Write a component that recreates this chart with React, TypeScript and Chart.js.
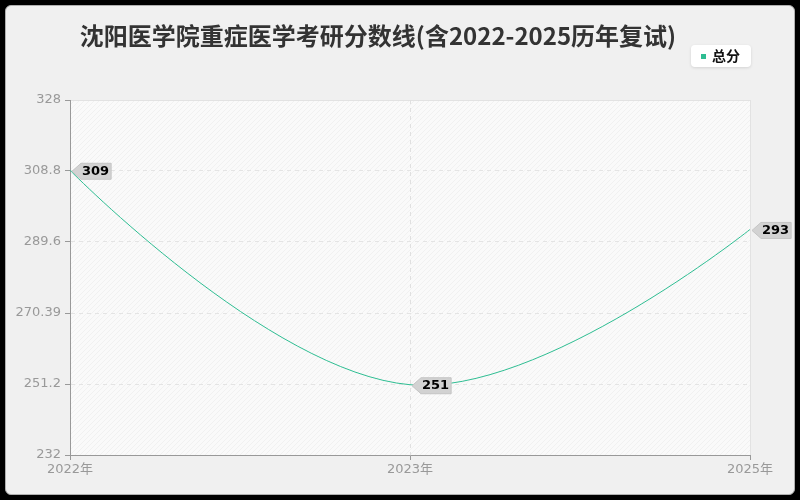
import React, { useEffect, useRef } from "react";
import Chart from "chart.js/auto";

const TITLE = "沈阳医学院重症医学考研分数线(含2022-2025历年复试)";
const SERIES_NAME = "总分";
const years = ["2022年", "2023年", "2025年"];
const scores = [309, 251, 293];
const yTicks = [232, 251.2, 270.39, 289.6, 308.8, 328];

const LINE_COLOR = "#2ebd92";
const TICK_FONT = '"DejaVu Sans", "Noto Sans CJK SC", sans-serif';
const CJK_FONT = '"Noto Sans CJK SC", "Noto Sans", sans-serif';

const backgroundPlugin = {
  id: "plotBackground",
  beforeDraw(chart: any) {
    const { ctx, chartArea: a } = chart;
    ctx.save();
    ctx.fillStyle = "#fafafa";
    ctx.fillRect(a.left, a.top, a.right - a.left, a.bottom - a.top);
    ctx.beginPath();
    ctx.rect(a.left, a.top, a.right - a.left, a.bottom - a.top);
    ctx.clip();
    ctx.strokeStyle = "rgba(0,0,0,0.035)";
    ctx.lineWidth = 1;
    const h = a.bottom - a.top;
    for (let x = a.left - h; x < a.right; x += 5) {
      ctx.beginPath();
      ctx.moveTo(x, a.bottom);
      ctx.lineTo(x + h, a.top);
      ctx.stroke();
    }
    ctx.restore();
    ctx.save();
    ctx.strokeStyle = "#e2e2e2";
    ctx.lineWidth = 1;
    ctx.strokeRect(a.left + 0.5, a.top + 0.5, a.right - a.left, a.bottom - a.top);
    ctx.restore();
  },
  afterDraw(chart: any) {
    const { ctx } = chart;
    ctx.save();
    // title
    ctx.fillStyle = "#333";
    ctx.font = `bold 24px ${CJK_FONT}`;
    ctx.textAlign = "center";
    ctx.textBaseline = "middle";
    ctx.fillText(TITLE, 378, 36);
    // legend
    ctx.shadowColor = "rgba(0,0,0,0.12)";
    ctx.shadowBlur = 3;
    ctx.shadowOffsetY = 1;
    ctx.fillStyle = "#fff";
    ctx.beginPath();
    ctx.roundRect(691, 45, 60, 22, 4);
    ctx.fill();
    ctx.shadowColor = "transparent";
    ctx.fillStyle = LINE_COLOR;
    ctx.fillRect(701, 54, 5, 5);
    ctx.fillStyle = "#111";
    ctx.font = `bold 14px ${CJK_FONT}`;
    ctx.textAlign = "left";
    ctx.fillText(SERIES_NAME, 712, 56);
    ctx.restore();
  },
};

// ends of the curve leave/enter their point without a handle
const endHandlesPlugin = {
  id: "endHandles",
  beforeDatasetsDraw(chart: any) {
    const meta = chart.getDatasetMeta(0);
    const pts = meta.data;
    if (!pts.length) return;
    meta.dataset.updateControlPoints(chart.chartArea, "x");
    const first = pts[0];
    const last = pts[pts.length - 1];
    first.cp2x = first.x;
    first.cp2y = first.y;
    last.cp1x = last.x;
    last.cp1y = last.y;
    meta.dataset._path = undefined;
  },
};

const labelPlugin = {
  id: "pointLabels",
  afterDatasetsDraw(chart: any) {
    const { ctx } = chart;
    const meta = chart.getDatasetMeta(0);
    ctx.save();
    ctx.font = `bold 13px ${TICK_FONT}`;
    meta.data.forEach((pt: any, i: number) => {
      const text = String(scores[i]);
      const w = ctx.measureText(text).width;
      const x = pt.x + 2;
      const y = pt.y + 1;
      const bx = x + 9;
      ctx.beginPath();
      ctx.moveTo(x, y);
      ctx.lineTo(bx, y - 8);
      ctx.lineTo(bx + w + 3, y - 8);
      ctx.lineTo(bx + w + 3, y + 8);
      ctx.lineTo(bx, y + 8);
      ctx.closePath();
      ctx.fillStyle = "#d2d2d2";
      ctx.fill();
      ctx.strokeStyle = "#c4c4c4";
      ctx.lineWidth = 1;
      ctx.stroke();
      ctx.fillStyle = "#000";
      ctx.textAlign = "left";
      ctx.textBaseline = "middle";
      ctx.fillText(text, bx + 1, y);
    });
    ctx.restore();
  },
};

const ScoreChart = () => {
  const chartRef = useRef<HTMLCanvasElement>(null);
  const chartInstance = useRef<Chart | null>(null);

  useEffect(() => {
    if (chartRef.current) {
      chartInstance.current = new Chart(chartRef.current, {
        type: "line",
        data: {
          labels: years,
          datasets: [
            {
              label: SERIES_NAME,
              data: scores,
              borderColor: LINE_COLOR,
              backgroundColor: LINE_COLOR,
              borderWidth: 1,
              pointRadius: 0,
              tension: 0.4,
              fill: false,
            },
          ],
        },
        options: {
          responsive: true,
          maintainAspectRatio: false,
          animation: false,
          layout: { padding: { left: 0, right: 50, top: 100, bottom: 0 } },
          plugins: {
            legend: { display: false },
            title: { display: false },
            tooltip: { enabled: false },
          },
          scales: {
            x: {
              type: "category",
              offset: false,
              afterFit: (s: any) => {
                s.height = 45;
              },
              border: { display: true, color: "#999", width: 1, dash: [4, 4] },
              grid: {
                color: (c: any) => (c.index === 1 ? "#e0e0e0" : "transparent"),
                tickColor: "#999",
                tickLength: 5,
              },
              ticks: {
                color: "#999",
                font: { family: TICK_FONT, size: 13 },
                maxRotation: 0,
                padding: 2,
              },
            },
            y: {
              min: 232,
              max: 328,
              afterFit: (s: any) => {
                s.width = 70;
              },
              afterBuildTicks: (s: any) => {
                s.ticks = yTicks.map((v) => ({ value: v }));
              },
              border: { display: true, color: "#999", width: 1, dash: [4, 4] },
              grid: {
                color: (c: any) =>
                  c.index === 0 || c.index === yTicks.length - 1 ? "transparent" : "#e4e4e4",
                tickColor: "#999",
                tickLength: 5,
              },
              ticks: {
                color: "#999",
                font: { family: TICK_FONT, size: 13 },
                padding: 4,
                callback: (_v: any, i: number) => String(yTicks[i]),
              },
            },
          },
        } as any,
        plugins: [backgroundPlugin, endHandlesPlugin, labelPlugin],
      });
    }
    return () => {
      chartInstance.current?.destroy();
    };
  }, []);

  return <canvas ref={chartRef} />;
};

export default function App() {
  return (
    <div style={{ position: "fixed", left: 0, top: 0, width: 800, height: 500, background: "#000" }}>
      <div
        style={{
          position: "absolute",
          left: 5,
          top: 5,
          width: 788,
          height: 488,
          background: "#f0f0f0",
          border: "1px solid #b0b0b0",
          borderRadius: 6,
        }}
      />
      <div style={{ position: "absolute", left: 0, top: 0, width: 800, height: 500 }}>
        <ScoreChart />
      </div>
    </div>
  );
}
